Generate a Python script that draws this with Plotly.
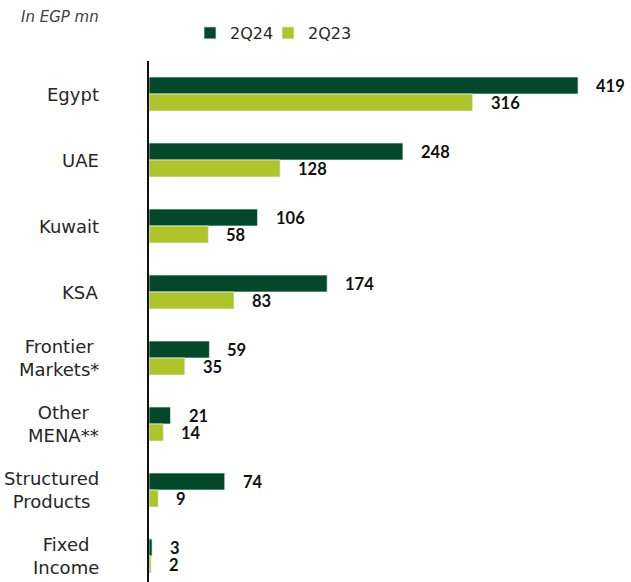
import plotly.graph_objects as go

categories = ["Egypt", "UAE", "Kuwait", "KSA", "Frontier<br>Markets*", "Other<br>MENA**",
              "Structured<br>Products", "Fixed<br>Income"]
series_names = ["2Q24", "2Q23"]
values_2q24 = [419, 248, 106, 174, 59, 21, 74, 3]
values_2q23 = [316, 128, 58, 83, 35, 14, 9, 2]
unit_label = "In EGP mn"

colors = ["#03482B", "#AFC42B"]
W, H = 631, 582
L, T = 149, 61
pw = W - L
ph = H - T

fig = go.Figure()
for k, (name, vals, col) in enumerate(zip(series_names, [values_2q24, values_2q23], colors)):
    fig.add_trace(go.Bar(
        y=categories, x=vals, name=name, orientation="h",
        marker=dict(color=col, line=dict(color="rgba(230,240,230,0.9)", width=0.8)),
        hoverinfo="x+y", legend="legend" if k == 0 else "legend2",
    ))

annotations = []
for i, cat in enumerate(categories):
    for vals, ys in [(values_2q24, 8.5), (values_2q23, -8.5)]:
        annotations.append(dict(
            x=vals[i], y=cat, xref="x", yref="y", text=str(vals[i]),
            showarrow=False, xanchor="left", yanchor="middle", xshift=17, yshift=ys,
            height=16, valign="middle", borderpad=0,
            font=dict(family="Lato, Liberation Sans, sans-serif", size=16.5, color="#111111", weight="bold"),
        ))
    annotations.append(dict(
        x=0, y=cat, xref="paper", yref="y", text=cat, showarrow=False,
        xanchor="right", yanchor="middle", align="center", xshift=-48,
        font=dict(family="DejaVu Sans, sans-serif", size=18, color="#262626"),
    ))
annotations.append(dict(
    x=(19 - L) / pw, y=1 + (T - 17) / ph, xref="paper", yref="paper",
    text="<i>" + unit_label + "</i>", showarrow=False,
    xanchor="left", yanchor="middle",
    font=dict(family="DejaVu Sans, sans-serif", size=15, color="#404040"),
))

legend_style = dict(orientation="h", yanchor="middle", xanchor="left", y=1 + (T - 33) / ph,
                    font=dict(family="DejaVu Sans, sans-serif", size=16, color="#262626"),
                    itemwidth=30, bgcolor="rgba(0,0,0,0)")

fig.update_layout(
    width=W, height=H,
    margin=dict(l=L, r=0, t=T, b=0, autoexpand=False),
    plot_bgcolor="white", paper_bgcolor="white",
    barmode="group", bargap=0.485, bargroupgap=0,
    showlegend=True,
    legend=dict(x=(190 - L) / pw, **legend_style),
    legend2=dict(x=(268 - L) / pw, **legend_style),
    xaxis=dict(range=[0, pw / 1.024], showgrid=False, zeroline=False, showticklabels=False,
               showline=False, fixedrange=True),
    yaxis=dict(range=[7.5 - 7.0 / 66, -0.5], showgrid=False, zeroline=False, showticklabels=False,
               showline=True, linecolor="#111111", linewidth=2, ticks="", fixedrange=True),
    annotations=annotations,
)

fig.write_html("out.html", config={"displayModeBar": False},
               post_script="document.body.style.margin='0';")
